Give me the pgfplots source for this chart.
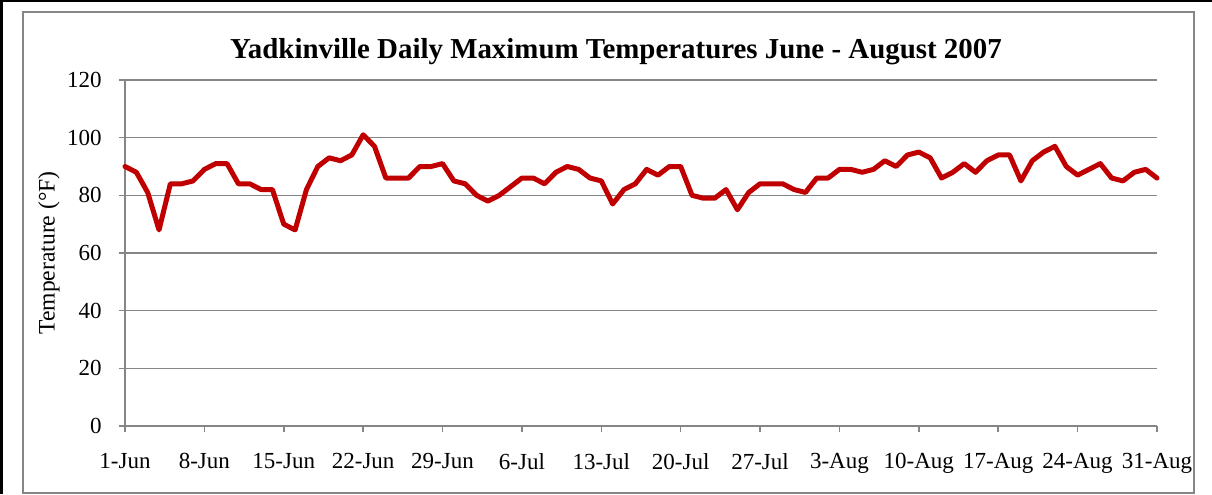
\documentclass[border=0pt]{standalone}
\usepackage{pgfplots}
\pgfplotsset{compat=1.18}
\usepackage{fontspec}
\setmainfont{Liberation Serif}
\definecolor{linered}{RGB}{192,0,0}
\definecolor{gridgray}{RGB}{134,134,134}
\begin{document}
\begin{tikzpicture}
\useasboundingbox (0,0) rectangle (606pt,247pt);
\begin{axis}[
  scale only axis,
  width=516pt, height=173pt,
  at={(62.5pt,34pt)}, anchor=south west,
  xmin=0, xmax=91, ymin=0, ymax=120,
  xtick={0,7,...,91},
  xticklabels={1-Jun,8-Jun,15-Jun,22-Jun,29-Jun,6-Jul,13-Jul,20-Jul,27-Jul,3-Aug,10-Aug,17-Aug,24-Aug,31-Aug},
  ytick={0,20,...,120},
  ymajorgrids,
  major grid style={gridgray, line width=0.8pt},
  axis x line*=bottom, axis y line*=left,
  axis line style={gridgray, line width=0.8pt, -},
  tick style={gridgray, line width=0.8pt},
  tick align=outside,
  major tick length=3pt,
  /pgf/number format/assume math mode=true,
  ticklabel style={font=\fontsize{11.5}{13}\selectfont, text=black},
  yticklabel style={anchor=east, inner sep=0pt, xshift=-8.5pt},
  xticklabel style={anchor=north, inner sep=0pt, yshift=-10.5pt},
  ylabel={Temperature (°F)},
  ylabel style={font=\fontsize{11.8}{13}\selectfont, at={(axis description cs:0,0.5)}, anchor=center, yshift=38pt},
  title={Yadkinville Daily Maximum Temperatures June - August 2007},
  title style={font=\fontsize{14.45}{16}\selectfont\bfseries, at={(axis description cs:0.5,1)}, anchor=base, yshift=5pt, xshift=-12.5pt},
  clip=false,
]
\addplot[linered, line width=2.5pt, line join=round, line cap=round] coordinates {
(0,90)(1,88)(2,81)(3,68)(4,84)(5,84)(6,85)(7,89)(8,91)(9,91)
(10,84)(11,84)(12,82)(13,82)(14,70)(15,68)(16,82)(17,90)(18,93)(19,92)
(20,94)(21,101)(22,97)(23,86)(24,86)(25,86)(26,90)(27,90)(28,91)(29,85)
(30,84)(31,80)(32,78)(33,80)(34,83)(35,86)(36,86)(37,84)(38,88)(39,90)
(40,89)(41,86)(42,85)(43,77)(44,82)(45,84)(46,89)(47,87)(48,90)(49,90)
(50,80)(51,79)(52,79)(53,82)(54,75)(55,81)(56,84)(57,84)(58,84)(59,82)
(60,81)(61,86)(62,86)(63,89)(64,89)(65,88)(66,89)(67,92)(68,90)(69,94)
(70,95)(71,93)(72,86)(73,88)(74,91)(75,88)(76,92)(77,94)(78,94)(79,85)
(80,92)(81,95)(82,97)(83,90)(84,87)(85,89)(86,91)(87,86)(88,85)(89,88)
(90,89)(91,86)
};
\end{axis}
\draw[gridgray, line width=0.8pt] (11.5pt,0.6pt) rectangle (597pt,241pt);
\fill[black] (0,0) rectangle (1.5pt,247pt);
\fill[black] (0,246pt) rectangle (606pt,247pt);
\end{tikzpicture}
\end{document}
